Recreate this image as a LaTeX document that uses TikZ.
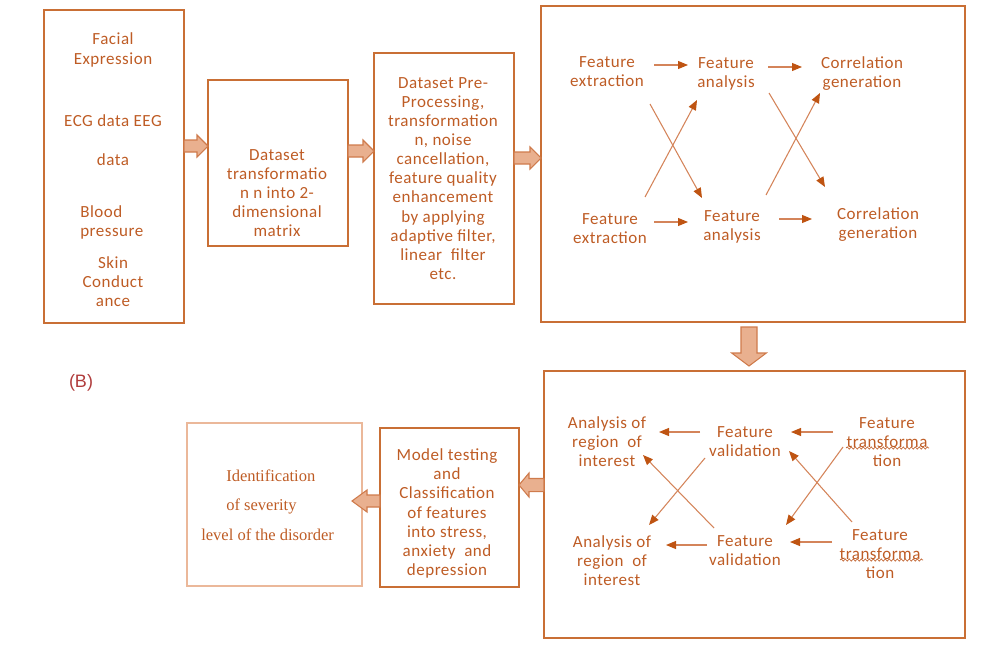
\documentclass[tikz,border=0pt]{standalone}
\usepackage{fontspec}
\setsansfont{Carlito}[LetterSpace=3]
\newfontfamily\serifB{Liberation Serif}
\newfontfamily\arialB{Liberation Sans}
\usetikzlibrary{arrows.meta,calc,decorations.pathmorphing}
\definecolor{boxc}{HTML}{C96F35}
\definecolor{txtc}{HTML}{BE5C25}
\definecolor{linec}{HTML}{D4845A}
\definecolor{headc}{HTML}{BF5412}
\definecolor{barf}{HTML}{E9B08F}
\definecolor{barc}{HTML}{CF7B4C}
\definecolor{lightbox}{HTML}{EBB89A}
\definecolor{bcol}{HTML}{B03C3C}
\tikzset{
  box/.style={draw=boxc, line width=1.5pt, inner sep=0pt, outer sep=0pt},
  lbox/.style={draw=lightbox, line width=1.5pt, inner sep=0pt, outer sep=0pt},
  t/.style={text=txtc, font=\sffamily\fontsize{12.75}{14.3}\selectfont, align=center, inner sep=0pt, yshift=-1.5pt},
  ts/.style={text=txtc, font=\serifB\fontsize{12.4}{22.3}\selectfont, align=left, inner sep=0pt},
  conn/.style={draw=linec, line width=0.8pt, -{Triangle[length=7.5pt,width=6pt,color=headc]}},
  barrow/.style={draw=barc, fill=barf, line width=0.8pt},
  squig/.style={draw=txtc, line width=0.5pt, decorate, decoration={snake, segment length=3pt, amplitude=0.8pt}}
}
\begin{document}
\begin{tikzpicture}[x=0.75pt,y=-0.75pt]
\useasboundingbox (0,0) rectangle (1005,650);
% boxes
\node[box, minimum width=105pt, minimum height=234.75pt] (b1) at (114,166.5) {};
\node[box, minimum width=105pt, minimum height=124.5pt] (b2) at (278,163) {};
\node[box, minimum width=105pt, minimum height=188.25pt] (b3) at (444,178.5) {};
\node[box, minimum width=318pt, minimum height=237pt] (b4) at (753,164) {};
\node[box, minimum width=315.75pt, minimum height=200.25pt] (b5) at (754.5,504.5) {};
\node[box, minimum width=104.25pt, minimum height=119.25pt] (b6) at (449.5,507.5) {};
\node[lbox, minimum width=131.25pt, minimum height=122.25pt] (b7) at (274.5,504.5) {};
% helper coordinates for block arrows
\coordinate (a1y) at (0,146);
\coordinate (a2y) at (0,151);
\coordinate (a3y) at (0,158);
\coordinate (a4x) at (749,0);
\coordinate (a5y) at (0,485);
\coordinate (a6y) at (0,501);
% block arrows
\draw[barrow] let \p1=(b1.east |- a1y), \p2=(b2.west |- a1y) in
  (\x1,\y1+4.5pt) -- (\x2-8.25pt,\y1+4.5pt) -- (\x2-8.25pt,\y1+8.25pt) -- (\x2,\y1) -- (\x2-8.25pt,\y1-8.25pt) -- (\x2-8.25pt,\y1-4.5pt) -- (\x1,\y1-4.5pt) -- cycle;
\draw[barrow] let \p1=(b2.east |- a2y), \p2=(b3.west |- a2y) in
  (\x1,\y1+4.5pt) -- (\x2-8.25pt,\y1+4.5pt) -- (\x2-8.25pt,\y1+8.25pt) -- (\x2,\y1) -- (\x2-8.25pt,\y1-8.25pt) -- (\x2-8.25pt,\y1-4.5pt) -- (\x1,\y1-4.5pt) -- cycle;
\draw[barrow] let \p1=(b3.east |- a3y), \p2=(b4.west |- a3y) in
  (\x1,\y1+4.5pt) -- (\x2-8.25pt,\y1+4.5pt) -- (\x2-8.25pt,\y1+8.25pt) -- (\x2,\y1) -- (\x2-8.25pt,\y1-8.25pt) -- (\x2-8.25pt,\y1-4.5pt) -- (\x1,\y1-4.5pt) -- cycle;
\draw[barrow] let \p1=(b4.south -| a4x), \p2=(b5.north -| a4x) in
  (\x1-6pt,\y1-3.75pt) -- (\x1-6pt,\y2+13.5pt) -- (\x1-13pt,\y2+13.5pt) -- (\x1,\y2+3.75pt) -- (\x1+13pt,\y2+13.5pt) -- (\x1+6pt,\y2+13.5pt) -- (\x1+6pt,\y1-3.75pt) -- cycle;
\draw[barrow] let \p1=(b5.west |- a5y), \p2=(b6.east |- a5y) in
  (\x1,\y1+4.9pt) -- (\x2+7.5pt,\y1+4.9pt) -- (\x2+7.5pt,\y1+9pt) -- (\x2,\y1) -- (\x2+7.5pt,\y1-9pt) -- (\x2+7.5pt,\y1-4.9pt) -- (\x1,\y1-4.9pt) -- cycle;
\draw[barrow] let \p1=(b6.west |- a6y), \p2=(b7.east |- a6y) in
  (\x1,\y1+4.5pt) -- (\x2+3.75pt,\y1+4.5pt) -- (\x2+3.75pt,\y1+8.25pt) -- (\x2-7.5pt,\y1) -- (\x2+3.75pt,\y1-8.25pt) -- (\x2+3.75pt,\y1-4.5pt) -- (\x1,\y1-4.5pt) -- cycle;
% box 1 texts
\node[t, font=\sffamily\fontsize{12.75}{15}\selectfont] (fac) at (113,48) {Facial\\Expression};
\node[t] (ecg) at (113,119) {ECG data EEG};
\node[t] (dat) at (113,158) {data};
\node[t, align=left, anchor=west] (bp) at (80,220) {Blood\\pressure};
\node[t] (skin) at (113,279.5) {Skin\\Conduct\\ance};
% box 2
\node[t] (dt) at (277,191) {Dataset\\transformatio\\n n into 2-\\dimensional\\matrix};
% box 3
\node[t] (pre) at (443,176.5) {Dataset Pre-\\Processing,\\transformation\\n, noise\\cancellation,\\feature quality\\enhancement\\by applying\\adaptive filter,\\linear~ filter\\etc.};
% box 4
\node[t] (fe1) at (607,70) {Feature\\extraction};
\node[t] (fa1) at (726,71.5) {Feature\\analysis};
\node[t] (cg1) at (862,71.5) {Correlation\\generation};
\node[t] (fe2) at (610,226.5) {Feature\\extraction};
\node[t] (fa2) at (732,224.5) {Feature\\analysis};
\node[t] (cg2) at (878,222.5) {Correlation\\generation};
\coordinate (c1s) at (654,65); \coordinate (c1e) at (688,65);
\coordinate (c2s) at (768,67); \coordinate (c2e) at (802,67);
\coordinate (c3s) at (654,222); \coordinate (c3e) at (688,222);
\coordinate (c4s) at (779,219); \coordinate (c4e) at (812,219);
\coordinate (x1s) at (650,104); \coordinate (x1e) at (702,198);
\coordinate (x2s) at (645,197); \coordinate (x2e) at (697,100);
\coordinate (x3s) at (769,93); \coordinate (x3e) at (825,187);
\coordinate (x4s) at (766,195); \coordinate (x4e) at (820,93);
\foreach \a in {c1,c2,c3,c4,x1,x2,x3,x4} \draw[conn] (\a s) -- (\a e);
% box 5
\node[t] (ar1) at (607,439.5) {Analysis of\\region~ of\\interest};
\node[t] (fv1) at (745,440) {Feature\\validation};
\node[t] (ft1) at (887,440) {Feature\\transforma\\tion};
\node[t] (ar2) at (612,559) {Analysis of\\region~ of\\interest};
\node[t] (fv2) at (745,548.5) {Feature\\validation};
\node[t] (ft2) at (880,552) {Feature\\transforma\\tion};
\draw[squig] (846,448) -- (929,448);
\draw[squig] (840,560) -- (923,560);
\coordinate (d1s) at (700,432); \coordinate (d1e) at (659,432);
\coordinate (d2s) at (833,432); \coordinate (d2e) at (791,432);
\coordinate (d3s) at (707,545); \coordinate (d3e) at (666,545);
\coordinate (d4s) at (832,542); \coordinate (d4e) at (790,542);
\coordinate (y1s) at (705,458); \coordinate (y1e) at (649,525);
\coordinate (y2s) at (714,528); \coordinate (y2e) at (643,455);
\coordinate (y3s) at (843,447); \coordinate (y3e) at (786,525);
\coordinate (y4s) at (852,522); \coordinate (y4e) at (789,451);
\foreach \a in {d1,d2,d3,d4,y1,y2,y3,y4} \draw[conn] (\a s) -- (\a e);
% box 6
\node[t] (mt) at (447,511.5) {Model testing\\and\\Classification\\of features\\into stress,\\anxiety~ and\\depression};
% box 7
\node[ts, anchor=west] (id1) at (226,476) {Identification};
\node[ts, anchor=west] (id2) at (226,506) {of severity};
\node[ts, anchor=west] (id3) at (201,535) {level of the disorder};
% label
\node[text=bcol, font=\arialB\fontsize{13.5}{16}\selectfont, inner sep=0pt] (lab) at (81,383) {(B)};
\end{tikzpicture}
\end{document}
